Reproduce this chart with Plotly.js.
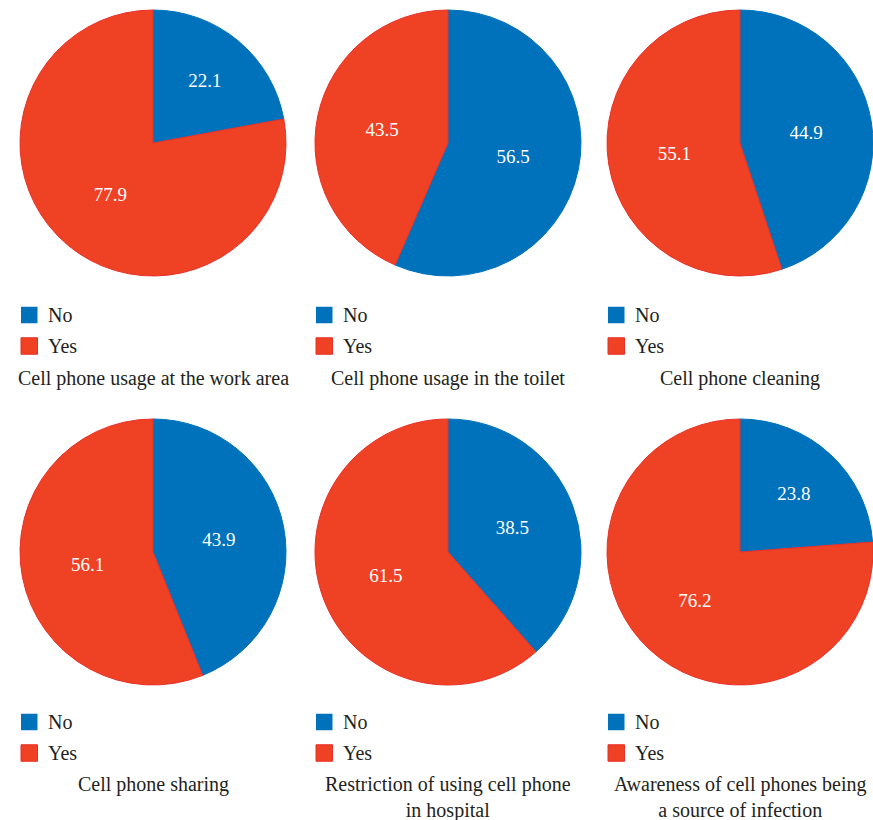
<!DOCTYPE html>
<html>
<head>
<meta charset="utf-8">
<script src="https://cdn.plot.ly/plotly-3.0.1.min.js"></script>
<style>html,body{margin:0;padding:0;background:#fff;}#chart{width:873px;height:820px;}</style>
</head>
<body>
<div id="chart"></div>
<script>
const categories = ['No', 'Yes'];
const captions = [
  'Cell phone usage at the work area',
  'Cell phone usage in the toilet',
  'Cell phone cleaning',
  'Cell phone sharing',
  'Restriction of using cell phone<br>in hospital',
  'Awareness of cell phones being<br>a source of infection'
];
const workArea = [22.1, 77.9];
const toilet = [56.5, 43.5];
const cleaning = [44.9, 55.1];
const sharing = [43.9, 56.1];
const restriction = [38.5, 61.5];
const awareness = [23.8, 76.2];
const seriesValues = [workArea, toilet, cleaning, sharing, restriction, awareness];

const W = 873, H = 820;
const colors = ['#0072BC', '#EF4123'];
const lineColors = ['#0072BC', '#E8302A'];
const fontFam = '"Liberation Serif", "Times New Roman", serif';
const textCol = '#231F20';

// layout geometry (pixels)
const colX = [[20, 286], [315, 581], [607, 873]];
const rowY = [[10, 276], [419, 685]];
const legendRowY = [[315, 346], [722, 753]];
const captionTop = [365, 771];
const sq = 16.5;

const traces = [];
const layout = {
  width: W, height: H,
  margin: {l: 0, r: 0, t: 0, b: 0},
  paper_bgcolor: '#fff',
  showlegend: false,
  annotations: [],
  shapes: []
};

seriesValues.forEach((vals, i) => {
  const c = i % 3, r = Math.floor(i / 3);
  traces.push({
    type: 'pie',
    labels: categories,
    values: vals,
    sort: false,
    direction: 'clockwise',
    rotation: 0,
    domain: {x: [colX[c][0] / W, colX[c][1] / W], y: [1 - rowY[r][1] / H, 1 - rowY[r][0] / H]},
    marker: {colors: colors, line: {color: lineColors, width: 1}},
    textinfo: 'value',
    textposition: 'inside',
    insidetextorientation: 'horizontal',
    insidetextfont: {family: fontFam, size: 19, color: '#ffffff'},
    hoverinfo: 'label+value',
    showlegend: false
  });
  // legend (one per pie)
  categories.forEach((cat, k) => {
    const yc = legendRowY[r][k];
    const x0 = colX[c][0] + 1;
    layout.shapes.push({
      type: 'rect', xref: 'paper', yref: 'paper',
      x0: x0 / W, x1: (x0 + sq) / W,
      y0: 1 - (yc + sq / 2) / H, y1: 1 - (yc - sq / 2) / H,
      fillcolor: colors[k], line: {color: lineColors[k], width: k === 1 ? 1 : 0}
    });
    layout.annotations.push({
      xref: 'paper', yref: 'paper',
      x: (x0 + sq + 8) / W, xanchor: 'left',
      y: 1 - yc / H, yanchor: 'middle',
      text: cat, showarrow: false,
      font: {family: fontFam, size: 20, color: textCol}
    });
  });
  layout.annotations.push({
    xref: 'paper', yref: 'paper',
    x: (colX[c][0] + colX[c][1]) / 2 / W, xanchor: 'center',
    y: 1 - captionTop[r] / H, yanchor: 'top',
    text: captions[i], showarrow: false, align: 'center',
    font: {family: fontFam, size: 20, color: textCol}
  });
});

Plotly.newPlot('chart', traces, layout, {displayModeBar: false, staticPlot: true});
</script>
</body>
</html>
